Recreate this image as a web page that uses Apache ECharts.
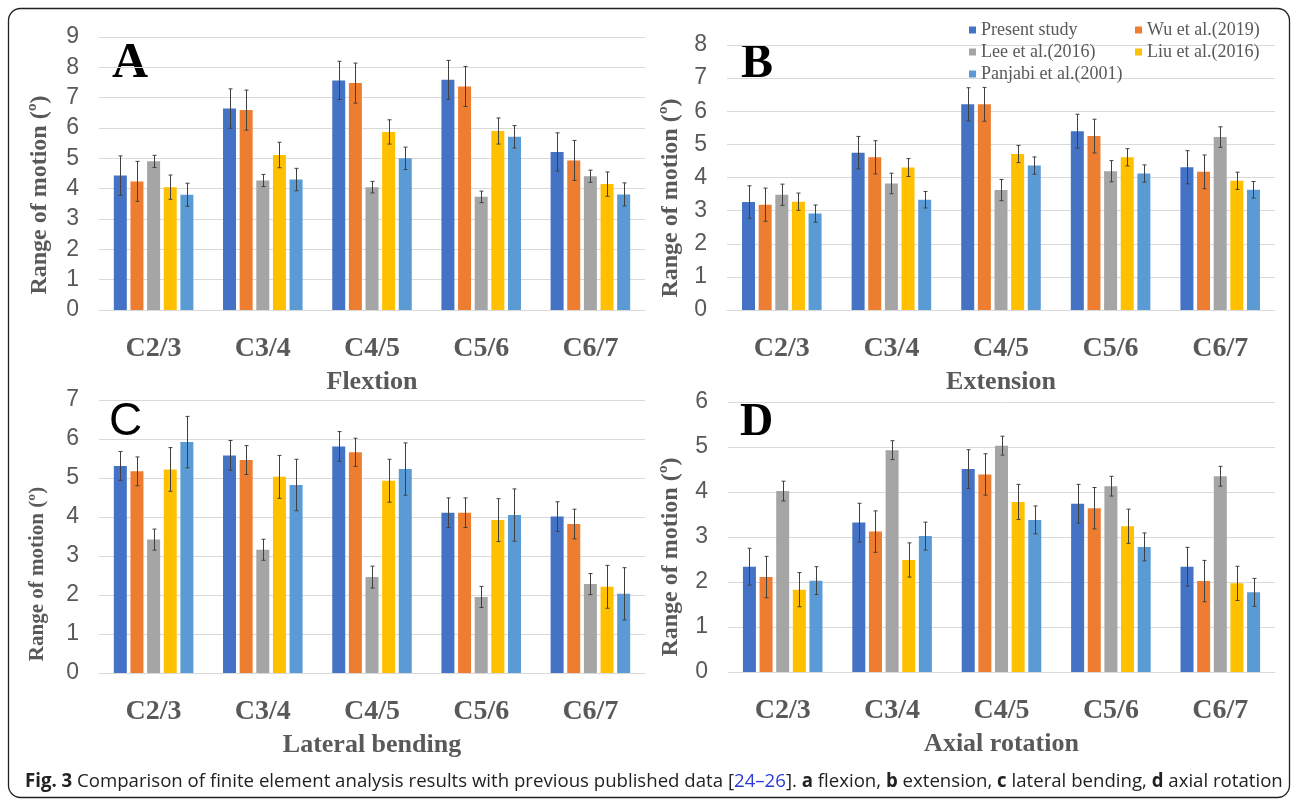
<!DOCTYPE html>
<html>
<head>
<meta charset="utf-8">
<script src="https://cdn.jsdelivr.net/npm/echarts@6/dist/echarts.min.js"></script>
<style>
  html, body { margin: 0; padding: 0; background: #fff; }
  #fig { width: 1292px; height: 801px; }
</style>
</head>
<body>
<div id="fig"></div>
<script>
var categories = ['C2/3', 'C3/4', 'C4/5', 'C5/6', 'C6/7'];
var studies = ['Present study', 'Wu et al.(2019)', 'Lee et al.(2016)', 'Liu et al.(2016)', 'Panjabi et al.(2001)'];

// one row per study, one value per level
var flexion = [
  [4.43, 6.64, 7.57, 7.59, 5.21],
  [4.24, 6.59, 7.48, 7.37, 4.93],
  [4.90, 4.27, 4.05, 3.73, 4.41],
  [4.05, 5.11, 5.87, 5.90, 4.15],
  [3.80, 4.30, 5.00, 5.71, 3.81]
];
var flexionSD = [
  [0.65, 0.65, 0.63, 0.64, 0.63],
  [0.66, 0.66, 0.66, 0.66, 0.66],
  [0.20, 0.20, 0.19, 0.19, 0.20],
  [0.40, 0.42, 0.40, 0.43, 0.40],
  [0.38, 0.37, 0.37, 0.37, 0.38]
];
var extension = [
  [3.26, 4.75, 6.21, 5.40, 4.31],
  [3.18, 4.61, 6.21, 5.25, 4.17],
  [3.48, 3.82, 3.62, 4.19, 5.22],
  [3.27, 4.30, 4.71, 4.61, 3.90],
  [2.91, 3.33, 4.36, 4.12, 3.63]
];
var extensionSD = [
  [0.49, 0.49, 0.50, 0.51, 0.50],
  [0.50, 0.50, 0.51, 0.51, 0.51],
  [0.32, 0.31, 0.32, 0.32, 0.31],
  [0.26, 0.27, 0.26, 0.26, 0.26],
  [0.26, 0.25, 0.26, 0.26, 0.25]
];
var lateral = [
  [5.31, 5.58, 5.81, 4.11, 4.01],
  [5.17, 5.46, 5.66, 4.11, 3.82],
  [3.42, 3.16, 2.46, 1.95, 2.28],
  [5.22, 5.03, 4.93, 3.92, 2.21],
  [5.92, 4.82, 5.23, 4.05, 2.03]
];
var lateralSD = [
  [0.37, 0.38, 0.38, 0.38, 0.38],
  [0.37, 0.37, 0.36, 0.38, 0.38],
  [0.27, 0.27, 0.28, 0.27, 0.27],
  [0.56, 0.55, 0.55, 0.55, 0.55],
  [0.66, 0.66, 0.67, 0.67, 0.67]
];
var axial = [
  [2.34, 3.32, 4.51, 3.74, 2.34],
  [2.11, 3.12, 4.39, 3.64, 2.02],
  [4.02, 4.93, 5.03, 4.13, 4.35],
  [1.83, 2.49, 3.78, 3.24, 1.97],
  [2.03, 3.02, 3.38, 2.78, 1.77]
];
var axialSD = [
  [0.41, 0.43, 0.43, 0.43, 0.43],
  [0.46, 0.46, 0.46, 0.46, 0.46],
  [0.22, 0.21, 0.21, 0.22, 0.22],
  [0.38, 0.38, 0.39, 0.38, 0.38],
  [0.31, 0.31, 0.31, 0.31, 0.31]
];

var colors = ['#4472C4', '#ED7D31', '#A5A5A5', '#FFC000', '#5B9BD5'];
var grey = '#595959';
var barWidth = 13;
var barGap = 0.28;
var pitch = barWidth * (1 + barGap);

var panels = [
  { title: 'Flextion', letter: 'A', values: flexion, sd: flexionSD, max: 9,
    grid: { left: 99, top: 37, width: 546, height: 273 },
    letterPos: [112, 64, 'bold 50px "Liberation Serif"'], yName: [40, 195, 24] },
  { title: 'Extension', letter: 'B', values: extension, sd: extensionSD, max: 8,
    grid: { left: 727, top: 45, width: 548, height: 265 },
    letterPos: [741, 65, 'bold 48px "Liberation Serif"'], yName: [671, 198, 24] },
  { title: 'Lateral bending', letter: 'C', values: lateral, sd: lateralSD, max: 7,
    grid: { left: 99, top: 400, width: 546, height: 273 },
    letterPos: [109, 422, '46px "Liberation Sans"'], yName: [38, 574, 21] },
  { title: 'Axial rotation', letter: 'D', values: axial, sd: axialSD, max: 6,
    grid: { left: 728, top: 402, width: 547, height: 270 },
    letterPos: [740, 423, 'bold 46px "Liberation Serif"'], yName: [671, 557, 24] }
];

function errorBar(k) {
  return function (params, api) {
    var i = api.value(0);
    var hi = api.coord([i, api.value(1) + api.value(2)]);
    var lo = api.coord([i, api.value(1) - api.value(2)]);
    var x = Math.round(hi[0] + (k - 2) * pitch) + 0.5;
    var st = { stroke: '#404040', lineWidth: 1 };
    return {
      type: 'group',
      children: [
        { type: 'line', shape: { x1: x, y1: hi[1], x2: x, y2: lo[1] }, style: st },
        { type: 'line', shape: { x1: x - 2, y1: hi[1], x2: x + 2, y2: hi[1] }, style: st },
        { type: 'line', shape: { x1: x - 2, y1: lo[1], x2: x + 2, y2: lo[1] }, style: st }
      ]
    };
  };
}

var grids = [], xAxes = [], yAxes = [], series = [], graphics = [];

panels.forEach(function (p, n) {
  grids.push(p.grid);
  xAxes.push({
    type: 'category',
    gridIndex: n,
    data: categories,
    name: p.title,
    nameLocation: 'middle',
    nameGap: 59,
    nameTextStyle: { color: grey, fontFamily: 'Liberation Serif', fontWeight: 'bold', fontSize: 26 },
    axisLine: { lineStyle: { color: '#d9d9d9' } },
    axisTick: { show: false },
    axisLabel: { color: grey, fontFamily: 'Liberation Serif', fontWeight: 'bold', fontSize: 28, margin: 25 }
  });
  yAxes.push({
    type: 'value',
    gridIndex: n,
    min: 0,
    max: p.max,
    interval: 1,
    axisLine: { show: false },
    axisTick: { show: false },
    splitLine: { lineStyle: { color: '#d9d9d9' } },
    axisLabel: { color: grey, fontFamily: 'Liberation Sans', fontSize: 23, margin: 20 }
  });
  for (var k = 0; k < studies.length; k++) {
    series.push({
      type: 'bar',
      name: studies[k],
      xAxisIndex: n,
      yAxisIndex: n,
      barWidth: barWidth,
      barGap: (barGap * 100) + '%',
      itemStyle: { color: colors[k] },
      data: p.values[k]
    });
    series.push({
      type: 'custom',
      name: 'err' + n + k,
      xAxisIndex: n,
      yAxisIndex: n,
      z: 5,
      silent: true,
      encode: { x: 0, y: 1 },
      renderItem: errorBar(k),
      data: p.values[k].map(function (v, i) { return [i, v, p.sd[k][i]]; })
    });
  }
  graphics.push({
    type: 'text',
    x: p.letterPos[0],
    y: p.letterPos[1],
    style: { text: p.letter, font: p.letterPos[2], fill: '#000', align: 'left', verticalAlign: 'middle' }
  });
  graphics.push({
    type: 'text',
    x: p.yName[0],
    y: p.yName[1],
    rotation: Math.PI / 2,
    style: {
      text: 'Range of motion (º)',
      font: 'bold ' + p.yName[2] + 'px "Liberation Serif"',
      fill: grey, align: 'center', verticalAlign: 'middle'
    }
  });
});

// legend, two columns
var legendPos = [[969, 21], [1135, 21], [969, 43], [1135, 43], [969, 65]];
var legends = studies.map(function (s, k) {
  return {
    data: [s],
    left: legendPos[k][0],
    top: legendPos[k][1],
    padding: 0,
    icon: 'rect',
    itemWidth: 7,
    itemHeight: 7,
    selectedMode: false,
    textStyle: { color: grey, fontFamily: 'Liberation Serif', fontSize: 18 }
  };
});

graphics.push({
  type: 'rect',
  shape: { x: 8.5, y: 8.5, width: 1281, height: 789, r: 12 },
  style: { fill: 'none', stroke: '#222', lineWidth: 1.3 }
});
graphics.push({
  type: 'text',
  x: 25,
  y: 782,
  scaleX: 0.98,
  style: {
    text: '{b|Fig. 3} Comparison of finite element analysis results with previous published data [{l|24–26}]. {b|a} flexion, {b|b} extension, {b|c} lateral bending, {b|d} axial rotation',
    font: '19px "Open Sans"',
    fill: '#222',
    verticalAlign: 'middle',
    rich: {
      b: { fontFamily: 'Open Sans', fontSize: 19, fontWeight: 'bold', fill: '#222' },
      l: { fontFamily: 'Open Sans', fontSize: 19, fill: '#2b39d6' }
    }
  }
});

var fig = echarts.init(document.getElementById('fig'));
var option = {
  backgroundColor: '#fff',
  animation: false,
  color: colors,
  legend: legends,
  grid: grids,
  xAxis: xAxes,
  yAxis: yAxes,
  series: series,
  graphic: graphics
};
fig.setOption(option);
</script>
</body>
</html>
